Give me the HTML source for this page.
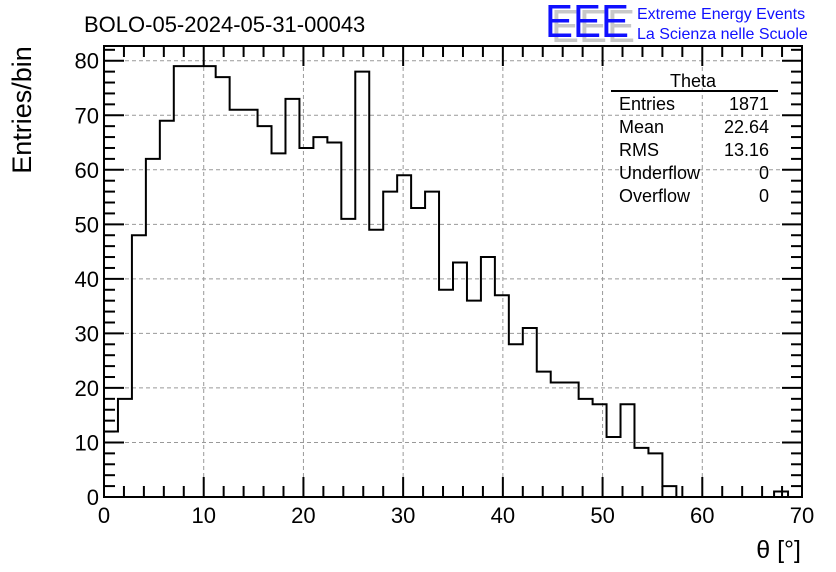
<!DOCTYPE html>
<html><head><meta charset="utf-8">
<style>
html,body{margin:0;padding:0;background:#fff;}
svg{display:block;font-family:"Liberation Sans",sans-serif;}
</style></head>
<body>
<svg id="chart" width="836" height="572" viewBox="0 0 836 572">
  <rect x="0" y="0" width="836" height="572" fill="#fff"/>
  <text x="84" y="32" font-size="22" fill="#000">BOLO-05-2024-05-31-00043</text>
  <g>
    <text x="551" y="42" font-size="46" fill="#c8c8c8" textLength="84" lengthAdjust="spacingAndGlyphs">EEE</text>
    <text x="545" y="37" font-size="46" fill="#1010ff" textLength="84" lengthAdjust="spacingAndGlyphs">EEE</text>
    <text x="637" y="19" font-size="16" fill="#1010ff">Extreme Energy Events</text>
    <text x="637" y="39" font-size="16" fill="#1010ff">La Scienza nelle Scuole</text>
  </g>
  <g id="grid"></g>
  <g id="bars"></g>
  <g id="axes"></g>
  <g font-size="18" fill="#000">
    <text x="693" y="87" text-anchor="middle">Theta</text>
    <line x1="611" y1="91" x2="778" y2="91" stroke="#000" stroke-width="2"/>
    <text x="619" y="110">Entries</text><text x="769" y="110" text-anchor="end">1871</text>
    <text x="619" y="133">Mean</text><text x="769" y="133" text-anchor="end">22.64</text>
    <text x="619" y="156">RMS</text><text x="769" y="156" text-anchor="end">13.16</text>
    <text x="619" y="179">Underflow</text><text x="769" y="179" text-anchor="end">0</text>
    <text x="619" y="202">Overflow</text><text x="769" y="202" text-anchor="end">0</text>
  </g>
  <text transform="translate(31,110) rotate(-90)" text-anchor="middle" font-size="27">Entries/bin</text>
  <text x="801" y="558" text-anchor="end" font-size="25">θ [°]</text>
</svg>
<script>
const binEdgesStart = 0;
const binWidth = 1.4;
const counts = [12,18,48,62,69,79,79,79,77,71,71,68,63,73,64,66,65,51,78,49,56,59,53,56,38,43,36,44,37,28,31,23,21,21,18,17,11,17,9,8,2,0,0,0,0,0,0,0,1,0];
const xTicks = [0,10,20,30,40,50,60,70];
const yTicks = [0,10,20,30,40,50,60,70,80];

const L=104,R=802,T=46,B=497;
const xMin=0,xMax=70,yMin=0,yMax=82.7;
const sx=v=>L+(v-xMin)/(xMax-xMin)*(R-L);
const sy=v=>B-(v-yMin)/(yMax-yMin)*(B-T);
const NS="http://www.w3.org/2000/svg";
function mk(tag,attrs,parent){const e=document.createElementNS(NS,tag);for(const k in attrs)e.setAttribute(k,attrs[k]);parent.appendChild(e);return e;}
const grid=document.getElementById('grid'),bars=document.getElementById('bars'),axes=document.getElementById('axes');

xTicks.forEach(t=>{if(t>xMin&&t<xMax){const l=mk('line',{x1:sx(t),x2:sx(t),y1:T,y2:B,stroke:'#999','stroke-width':1,'stroke-dasharray':'4,3'},grid);

}});
yTicks.forEach(t=>{if(t>yMin){const l=mk('line',{x1:L,x2:R,y1:sy(t),y2:sy(t),stroke:'#999','stroke-width':1,'stroke-dasharray':'4,3'},grid);

}});

let d='M'+sx(binEdgesStart)+','+sy(0);
counts.forEach((c,i)=>{const x0=sx(binEdgesStart+i*binWidth),x1=sx(binEdgesStart+(i+1)*binWidth);d+=' L'+x0+','+sy(c)+' L'+x1+','+sy(c);});
d+=' L'+sx(binEdgesStart+counts.length*binWidth)+','+sy(0);
const p=mk('path',{d:d,fill:'none',stroke:'#000','stroke-width':2},bars);



const fr=mk('rect',{x:L,y:T,width:R-L,height:B-T,fill:'none',stroke:'#000','stroke-width':2},axes);


for(let v=xMin;v<=xMax;v+=2){const major=v%10===0;const len=major?20:11;
 mk('line',{x1:sx(v),x2:sx(v),y1:B,y2:B-len,stroke:'#000','stroke-width':2},axes);
 mk('line',{x1:sx(v),x2:sx(v),y1:T,y2:T+len,stroke:'#000','stroke-width':2},axes);}
for(let v=yMin;v<=yMax;v+=2){const major=v%10===0;const len=major?20:11;
 mk('line',{x1:L,x2:L+len,y1:sy(v),y2:sy(v),stroke:'#000','stroke-width':2},axes);
 mk('line',{x1:R,x2:R-len,y1:sy(v),y2:sy(v),stroke:'#000','stroke-width':2},axes);}
xTicks.forEach(t=>{const e=mk('text',{x:sx(t),y:B+26,'text-anchor':'middle','font-size':22},axes);e.textContent=t;

});
yTicks.forEach(t=>{const e=mk('text',{x:L-5,y:sy(t)+8,'text-anchor':'end','font-size':22},axes);e.textContent=t;

});
</script>
</body></html>
